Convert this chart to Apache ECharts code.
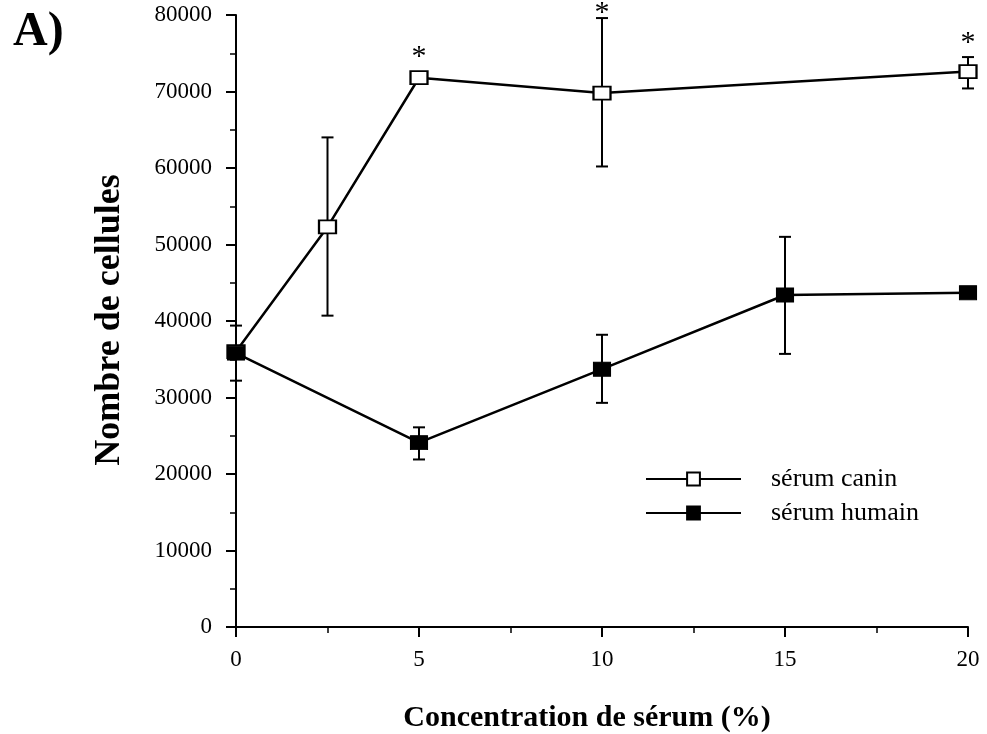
<!DOCTYPE html>
<html>
<head>
<meta charset="utf-8">
<script src="https://cdn.jsdelivr.net/npm/echarts@6/dist/echarts.min.js"></script>
<style>
html,body{margin:0;padding:0;background:#fff;}
#chart{width:987px;height:734px;}
</style>
</head>
<body>
<div id="chart"></div>
<script>
// ---- data ----
const canineX    = [0, 2.5, 5, 10, 20];
const canineY    = [36000, 52300, 71800, 69800, 72600];
const canineLow  = [null, 40700, null, 60200, 70400];
const canineHigh = [null, 64000, null, 79600, 74500];
const canineSig  = [0, 0, 1, 1, 1];

const humanX     = [0, 5, 10, 15, 20];
const humanY     = [35800, 24100, 33700, 43400, 43700];
const humanLow   = [32200, 21900, 29300, 35700, null];
const humanHigh  = [39400, 26100, 38200, 51000, null];

const xTicks = [0, 5, 10, 15, 20];
const yTicks = [0, 10000, 20000, 30000, 40000, 50000, 60000, 70000, 80000];

const seriesNames = ['sérum canin', 'sérum humain'];
const panelLabel = 'A)';
const xTitle = 'Concentration de sérum (%)';
const yTitle = 'Nombre de cellules';

// ---- build ----
const FONT = '"Liberation Serif", "Times New Roman", serif';

function pairs(xs, ys) { return xs.map((x, i) => [x, ys[i]]); }
function errItems(xs, lo, hi) {
  const out = [];
  xs.forEach((x, i) => { if (lo[i] != null && hi[i] != null) out.push([x, lo[i], hi[i]]); });
  return out;
}
function sigItems(xs, ys, hi, sig) {
  const out = [];
  xs.forEach((x, i) => {
    if (sig[i]) out.push([x, hi[i] != null ? hi[i] : ys[i], hi[i] != null ? 1 : 0]);
  });
  return out;
}

const errData = errItems(canineX, canineLow, canineHigh).concat(errItems(humanX, humanLow, humanHigh));
const sigData = sigItems(canineX, canineY, canineHigh, canineSig);

function renderErr(params, api) {
  const x = api.value(0);
  const lo = api.coord([x, api.value(1)]);
  const hi = api.coord([x, api.value(2)]);
  const w = 6;
  const st = { stroke: '#000', lineWidth: 2 };
  return {
    type: 'group',
    children: [
      { type: 'line', shape: { x1: lo[0], y1: lo[1], x2: hi[0], y2: hi[1] }, style: st },
      { type: 'line', shape: { x1: lo[0] - w, y1: lo[1], x2: lo[0] + w, y2: lo[1] }, style: st },
      { type: 'line', shape: { x1: hi[0] - w, y1: hi[1], x2: hi[0] + w, y2: hi[1] }, style: st }
    ]
  };
}
function renderSig(params, api) {
  const x = api.value(0);
  const p = api.coord([x, api.value(1)]);
  const top = api.value(2) ? p[1] : p[1] - 7;
  const y = Math.max(top - 20, 7);
  return {
    type: 'text',
    x: p[0], y: y + 6,
    style: { text: '*', fill: '#000', font: '30px ' + FONT, align: 'center', verticalAlign: 'middle' }
  };
}

const chart = echarts.init(document.getElementById('chart'), null, { renderer: 'canvas' });
const axisCommon = {
  type: 'value',
  axisLine: { show: true, lineStyle: { color: '#000', width: 2 } },
  axisTick: { show: true, length: 10, lineStyle: { color: '#000', width: 2 } },
  minorTick: { show: true, splitNumber: 2, length: 6, lineStyle: { color: '#000', width: 1.5 } },
  splitLine: { show: false },
  minorSplitLine: { show: false }
};

chart.setOption({
  animation: false,
  backgroundColor: '#fff',
  grid: { left: 236, right: 19, top: 15, bottom: 107 },
  xAxis: Object.assign({}, axisCommon, {
    min: xTicks[0], max: xTicks[xTicks.length - 1], interval: xTicks[1] - xTicks[0],
    axisLabel: { margin: 21, color: '#000', fontSize: 23, fontFamily: FONT, formatter: v => String(v) }
  }),
  yAxis: Object.assign({}, axisCommon, {
    min: yTicks[0], max: yTicks[yTicks.length - 1], interval: yTicks[1] - yTicks[0],
    axisLabel: { margin: 24, color: '#000', fontSize: 23, fontFamily: FONT, formatter: v => String(v) }
  }),
  legend: {
    orient: 'vertical', left: 645, top: 466, padding: 0, itemWidth: 95, itemHeight: 16, itemGap: 8,
    lineStyle: { width: 2, color: '#000' },
    textStyle: { fontSize: 26, fontFamily: FONT, color: '#000', padding: [0, 0, 0, 25] },
    data: seriesNames
  },
  graphic: [
    { type: 'text', x: 13, y: 33, style: { text: panelLabel, font: 'bold 48px ' + FONT, fill: '#000', align: 'left', verticalAlign: 'middle' } },
    { type: 'text', x: 110, y: 320, rotation: Math.PI / 2, style: { text: yTitle, font: 'bold 36px ' + FONT, fill: '#000', align: 'center', verticalAlign: 'middle' } },
    { type: 'text', x: 587, y: 718, style: { text: xTitle, font: 'bold 30px ' + FONT, fill: '#000', align: 'center', verticalAlign: 'middle' } }
  ],
  series: [
    { type: 'custom', name: 'err', renderItem: renderErr, data: errData, z: 1, silent: true },
    {
      type: 'line', name: seriesNames[0], data: pairs(canineX, canineY), z: 2,
      symbol: 'rect', symbolSize: [17, 13],
      lineStyle: { color: '#000', width: 2.5 },
      itemStyle: { color: '#fff', borderColor: '#000', borderWidth: 2 }
    },
    {
      type: 'line', name: seriesNames[1], data: pairs(humanX, humanY), z: 3,
      symbol: 'rect', symbolSize: [17, 14],
      lineStyle: { color: '#000', width: 2.5 },
      itemStyle: { color: '#000', borderColor: '#000', borderWidth: 1 }
    },
    { type: 'custom', name: 'sig', renderItem: renderSig, data: sigData, z: 4, silent: true }
  ]
});
</script>
</body>
</html>
